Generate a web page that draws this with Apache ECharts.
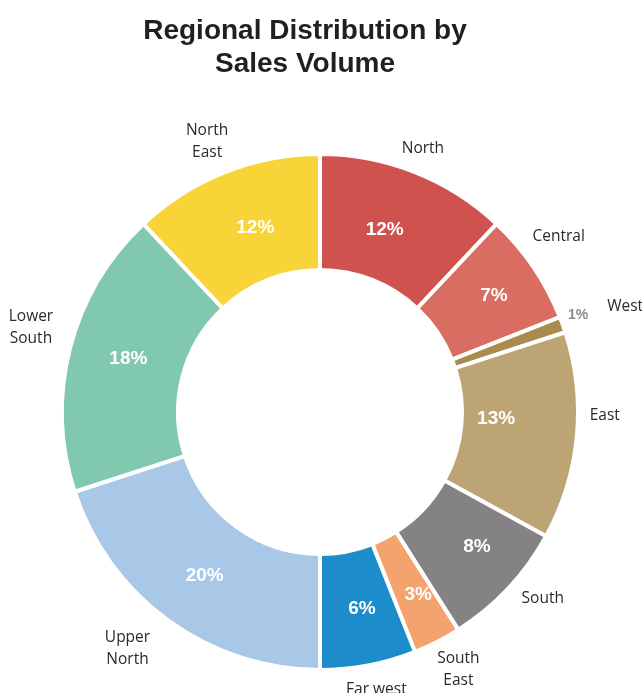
<!DOCTYPE html>
<html>
<head>
<meta charset="utf-8">
<title>Regional Distribution by Sales Volume</title>
<script src="https://cdn.jsdelivr.net/npm/echarts@6/dist/echarts.min.js"></script>
<style>
  html, body { margin: 0; padding: 0; background: #ffffff; }
  #chart { width: 642px; height: 693px; }
</style>
</head>
<body>
<div id="chart"></div>
<script>
// Regions, clockwise from 12 o'clock
const regions = ['North', 'Central', 'West', 'East', 'South', 'South East', 'Far west', 'Upper North', 'Lower South', 'North East'];
// Share of sales volume, in percent
const shares = [12, 7, 1, 13, 8, 3, 6, 20, 18, 12];
const colors = ['#D0524F', '#D96D61', '#A98B4D', '#BCA474', '#858283', '#F4A26E', '#1C8DCA', '#A9C7E7', '#80C9AE', '#F9D438'];

// Regions whose name is written on a single line
const singleLine = ['Far west'];

// Nudges for the region-name labels (px)
const nameNudge = {
  'North': [-2, 2], 'Central': [3, -15], 'West': [37, -9], 'East': [1, -23],
  'South': [15, -9], 'South East': [9, 4], 'Far west': [3, -2],
  'Upper North': [-25, 6], 'Lower South': [-13, -14], 'North East': [-8, -5]
};
// Nudges for the percentage labels (px)
const pctNudge = {
  'North': [-10, 7], 'Central': [6, -2], 'West': [67, -28], 'East': [-26, -12],
  'South': [9, -4], 'South East': [6, 2], 'Far west': [4, -3],
  'Upper North': [4, 0], 'Lower South': [5, -3], 'North East': [10, 5]
};

const CENTER = [320, 412];
const FONT_BOLD = 'Liberation Sans, Arial, Helvetica, sans-serif';
const FONT_TEXT = 'Open Sans, Noto Sans, sans-serif';

const ringData = regions.map((name, i) => {
  const item = {
    name: name,
    value: shares[i],
    itemStyle: { color: colors[i] },
    label: { offset: pctNudge[name] || [0, 0] }
  };
  if (name === 'West') {
    item.label.color = '#8A8A8A';
    item.label.fontSize = 14;
  }
  return item;
});

const nameData = regions.map((name, i) => ({
  name: name,
  value: shares[i],
  label: { offset: nameNudge[name] || [0, 0] }
}));

const chart = echarts.init(document.getElementById('chart'), null, { renderer: 'canvas' });

chart.setOption({
  backgroundColor: '#ffffff',
  animation: false,
  title: {
    text: 'Regional Distribution by\nSales Volume',
    left: 305,
    top: 15,
    textAlign: 'center',
    padding: 0,
    textStyle: {
      fontFamily: FONT_BOLD,
      fontWeight: 'bold',
      fontSize: 28,
      lineHeight: 33,
      color: '#231F20'
    }
  },
  series: [
    {
      // the coloured ring with percentages
      type: 'pie',
      center: CENTER,
      radius: [142, 258],
      startAngle: 90,
      clockwise: true,
      silent: true,
      itemStyle: { borderColor: '#ffffff', borderWidth: 4 },
      label: {
        show: true,
        position: 'inside',
        formatter: p => p.value + '%',
        color: '#ffffff',
        fontFamily: FONT_BOLD,
        fontWeight: 'bold',
        fontSize: 19
      },
      labelLine: { show: false },
      emphasis: { disabled: true },
      data: ringData
    },
    {
      // region names around the ring
      type: 'pie',
      center: CENTER,
      radius: [250, 314],
      startAngle: 90,
      clockwise: true,
      silent: true,
      z: 3,
      itemStyle: { color: 'transparent', borderWidth: 0 },
      label: {
        show: true,
        position: 'inside',
        formatter: p => singleLine.includes(p.name) ? p.name : p.name.replace(' ', '\n'),
        color: '#2A2A2A',
        fontFamily: FONT_TEXT,
        fontSize: 15.5,
        lineHeight: 22
      },
      labelLine: { show: false },
      emphasis: { disabled: true },
      data: nameData
    }
  ]
});
</script>
</body>
</html>
